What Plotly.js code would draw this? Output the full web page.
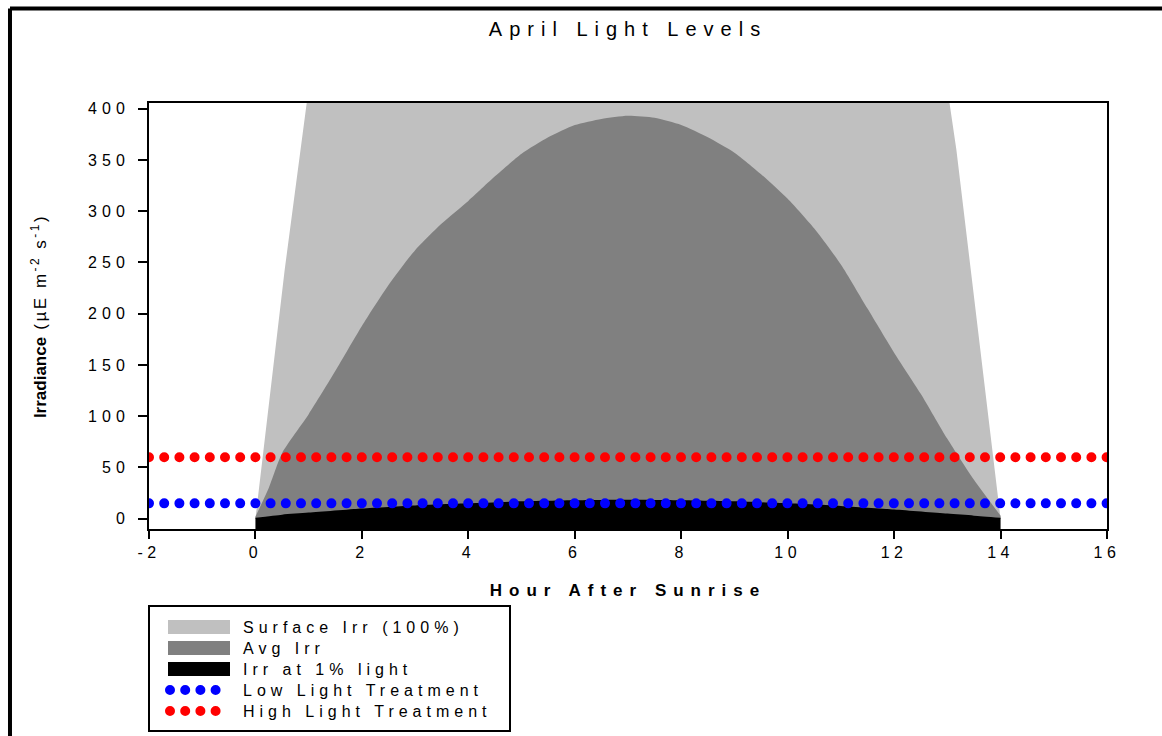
<!DOCTYPE html>
<html><head><meta charset="utf-8">
<script src="https://cdn.plot.ly/plotly-3.0.1.min.js"></script>
<style>
html,body{margin:0;padding:0;background:#fff;}
#chart{width:1162px;height:736px;}
text.gtitle{letter-spacing:7px;}
text.xtitle{letter-spacing:7px;}
g.xtick text{letter-spacing:4.5px;}
g.ytick text{letter-spacing:5px;}
text.legendtext{letter-spacing:5px;}
path.js-line{stroke-linecap:round;}
</style></head><body><div id="chart"></div>
<script>
// ---- data ----
const surfaceHours = [0, 0.55, 1, 2, 3, 4, 5, 6, 7, 8, 9, 10, 11, 12, 13, 13.17, 14];
const surfaceIrr   = [0, 243, 420, 800, 1100, 1350, 1520, 1620, 1650, 1620, 1520, 1350, 1100, 800, 420, 360, 0];

const avgHours = [0, 0.25, 0.5, 1, 1.5, 2, 2.5, 3, 3.5, 4, 4.5, 5, 5.5, 6, 6.5, 7, 7.5, 8, 8.5, 9, 9.5, 10, 10.5, 11, 11.5, 12, 12.5, 13, 13.5, 14];
const avgIrr   = [2, 30, 64, 102, 144, 188, 228, 262, 288, 310, 334, 356, 372, 384, 390, 393, 391, 384, 372, 357, 336, 312, 283, 248, 205, 162, 122, 78, 38, 3];

const onePctHours = [0, 0.5, 1, 2, 3, 4, 5, 6, 7, 8, 9, 10, 11, 12, 13, 13.5, 14];
const onePctIrr   = [1, 4, 6, 10, 13, 15, 17, 18, 18.5, 18, 17, 15, 12.5, 9, 5, 3, 1];

const treatmentHours = [-2, 16];
const lowLight  = [15, 15];
const highLight = [60, 60];

const xTickVals = [-2, 0, 2, 4, 6, 8, 10, 12, 14, 16];
const xTickText = ['-2', '0', '2', '4', '6', '8', '10', '12', '14', '16'];
const yTickVals = [0, 50, 100, 150, 200, 250, 300, 350, 400];

const seriesNames = ['Surface Irr (100%)', 'Avg Irr', 'Irr at 1% light', 'Low Light Treatment', 'High Light Treatment'];

// ---- chart ----
const xRange = [-2, 16];
const yRange = [-10, 405.5];
const FONT = 'Liberation Sans, Arial, sans-serif';

const traces = [
  {x: surfaceHours, y: surfaceIrr, name: seriesNames[0], type: 'scatter', mode: 'lines',
   fill: 'tozeroy', fillcolor: '#c0c0c0', line: {width: 0, color: '#c0c0c0'}},
  {x: avgHours, y: avgIrr, name: seriesNames[1], type: 'scatter', mode: 'lines',
   fill: 'tozeroy', fillcolor: '#808080', line: {width: 0, color: '#808080', shape: 'spline', smoothing: 0.6}},
  {x: [onePctHours[0], onePctHours[onePctHours.length - 1]], y: [yRange[0], yRange[0]],
   type: 'scatter', mode: 'lines', line: {width: 0}, showlegend: false, hoverinfo: 'skip'},
  {x: onePctHours, y: onePctIrr, name: seriesNames[2], type: 'scatter', mode: 'lines',
   fill: 'tonexty', fillcolor: '#000000', line: {width: 0, color: '#000000', shape: 'spline', smoothing: 0.6}},
  {x: treatmentHours, y: lowLight, name: seriesNames[3], type: 'scatter', mode: 'lines',
   cliponaxis: false, line: {color: '#0000ff', width: 10, dash: '0px,15.2px'}},
  {x: treatmentHours, y: highLight, name: seriesNames[4], type: 'scatter', mode: 'lines',
   cliponaxis: false, line: {color: '#ff0000', width: 10, dash: '0px,15.2px'}}
];

const layout = {
  width: 1162, height: 736,
  margin: {l: 149, r: 55, t: 103, b: 207, autoexpand: false},
  paper_bgcolor: '#ffffff', plot_bgcolor: '#ffffff',
  font: {family: FONT, color: '#000000', size: 16},
  title: {text: 'April Light Levels', font: {family: FONT, size: 20, color: '#000000'},
          x: 0.5, xref: 'paper', xanchor: 'center', y: 1 - 29 / 736, yref: 'container', yanchor: 'middle'},
  xaxis: {range: xRange, tickmode: 'array', tickvals: xTickVals, ticktext: xTickText,
          ticks: 'outside', ticklen: 8, tickwidth: 2, tickcolor: '#000',
          showline: true, linecolor: '#000', linewidth: 2, mirror: true,
          showgrid: false, zeroline: false, tickfont: {family: FONT, size: 16, color: '#000'},
          title: {text: '<b>Hour After Sunrise</b>', font: {family: FONT, size: 17, color: '#000'}, standoff: 24}},
  yaxis: {range: yRange, tickmode: 'array', tickvals: yTickVals,
          ticks: 'outside', ticklen: 9, tickwidth: 2, tickcolor: '#000',
          showline: true, linecolor: '#000', linewidth: 2, mirror: true,
          showgrid: false, zeroline: false, tickfont: {family: FONT, size: 16, color: '#000'},
          ticklabelstandoff: 5,
          title: {text: '<b>Irradiance</b><span style="letter-spacing:2.5px"> (µE m<sup>-2</sup> s<sup>-1</sup>)</span>',
                  font: {family: FONT, size: 17, color: '#000'}, standoff: 37}},
  showlegend: true,
  legend: {x: -0.001, xanchor: 'left', y: (528.7 - 605) / 425.4, yanchor: 'top',
           bordercolor: '#000', borderwidth: 2, bgcolor: '#fff',
           font: {family: FONT, size: 16, color: '#000'}, itemwidth: 62, traceorder: 'normal'},
  shapes: [
    {type: 'line', xref: 'paper', yref: 'paper', x0: -0.1451, x1: -0.1451, y0: -1, y1: 1.2217, line: {color: '#000', width: 4}},
    {type: 'line', xref: 'paper', yref: 'paper', x0: -0.1451, x1: 1.2, y0: 1.2217, y1: 1.2217, line: {color: '#000', width: 4}}
  ]
};

// legend box geometry (page pixels) matching the reference look
const LEG = {left: 149, top: 606, width: 361, height: 125, symbolX: 163, textX: 80, rowY0: 627, rowStep: 21};

function parseTranslate(el) {
  const m = /translate\(\s*([-\d.e]+)[ ,]+([-\d.e]+)\s*\)/.exec(el.getAttribute('transform') || '');
  return m ? [parseFloat(m[1]), parseFloat(m[2])] : [0, 0];
}

function tuneLegend(gd) {
  const legend = gd.querySelector('g.legend');
  if (!legend) return;
  const lt = legend.getCTM();
  const bg = legend.querySelector('rect.bg');
  if (bg) {
    bg.setAttribute('x', LEG.left - lt.e);
    bg.setAttribute('y', LEG.top - lt.f);
    bg.setAttribute('width', LEG.width);
    bg.setAttribute('height', LEG.height);
  }
  gd.querySelectorAll('clipPath').forEach(cp => {
    if (/legend/.test(cp.id)) {
      cp.querySelectorAll('rect').forEach(r => {
        r.setAttribute('x', -100); r.setAttribute('y', -100);
        r.setAttribute('width', 800); r.setAttribute('height', 400);
      });
    }
  });
  const items = legend.querySelectorAll('g.traces');
  items.forEach((g, i) => {
    const ctm = g.getCTM();
    const [tx, ty] = parseTranslate(g);
    const nx = tx + (LEG.symbolX - ctm.e);
    const ny = ty + (LEG.rowY0 + i * LEG.rowStep - ctm.f);
    g.setAttribute('transform', 'translate(' + nx + ',' + ny + ')');
    const txt = g.querySelector('text.legendtext');
    if (txt) txt.setAttribute('x', LEG.textX);
    g.querySelectorAll('.legendfill path').forEach(p => p.setAttribute('d', 'M5,-7h62v14h-62z'));
    g.querySelectorAll('.legendlines path').forEach(p => {
      if (i < 3) p.setAttribute('d', 'M5,0h0');
      else p.setAttribute('d', 'M7,0h46');
    });
  });
}

Plotly.newPlot('chart', traces, layout, {displayModeBar: false, staticPlot: true})
  .then(gd => tuneLegend(gd));
</script></body></html>
